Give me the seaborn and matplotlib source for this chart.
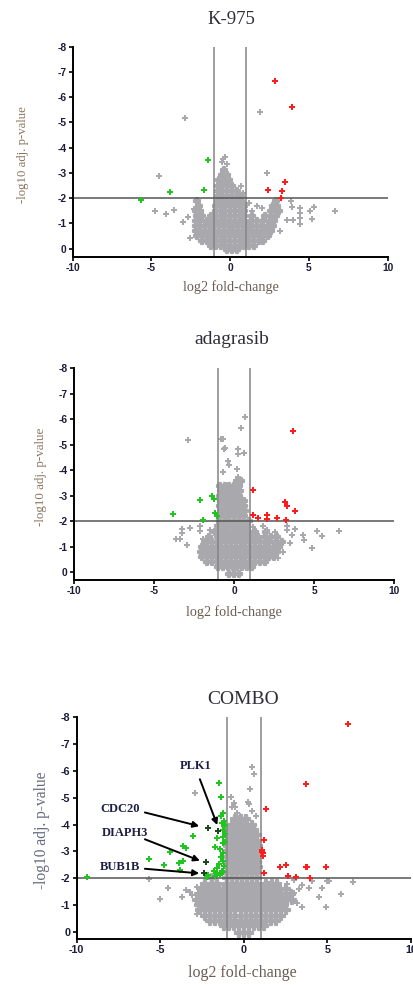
import matplotlib
matplotlib.use("Agg")
import matplotlib.pyplot as plt
import seaborn as sns
import pandas as pd

# ---------------- DATA ----------------
x_ticks = [-10, -5, 0, 5, 10]
y_ticks = [-8, -7, -6, -5, -4, -3, -2, -1, 0]
titles = ["K-975", "adagrasib", "COMBO"]

# --- K-975 ---
k975_red = [(2.87, -6.64), (3.90, -5.62), (3.48, -2.64), (2.42, -2.32), (3.27, -2.28), (3.23, -2.02)]
k975_green = [(-1.39, -3.50), (-1.66, -2.32), (-3.80, -2.26), (-5.64, -1.93)]
k975_gray = [(-2.85, -5.16), (1.89, -5.41), (-4.54, -2.89), (2.32, -2.98), (-0.45, -3.55), (-0.30, -3.62),
             (-0.55, -3.45), (-0.20, -3.35), (-4.75, -1.50), (-4.10, -1.38), (-3.55, -1.52), (-3.02, -1.07),
             (-2.55, -0.44), (-2.17, -1.89), (-2.28, -1.56), (-2.66, -1.24), (3.84, -1.89), (3.90, -1.66),
             (4.43, -1.60), (4.43, -1.40), (4.43, -1.20), (4.40, -0.98), (5.07, -1.49), (5.34, -1.66),
             (5.21, -1.16), (3.59, -1.14), (3.16, -0.70), (6.66, -1.48), (4.01, -1.14), (1.40, -1.50),
             (1.70, -1.70), (2.00, -1.60), (1.20, -1.80), (0.80, -2.20), (0.70, -2.50)]
k975_core = [
    (0.05, [-0.2, 0.1, 0.4]),
    (-0.1, [-1.2, -0.9, -0.6, -0.3, 0.0, 0.3, 0.6, 0.9, 1.2, 1.5]),
    (-0.3, [-1.8, -1.5, -1.2, -0.9, -0.6, -0.3, 0.0, 0.3, 0.6, 0.9, 1.2, 1.5, 1.8, 2.1]),
    (-0.5, [-2.1, -1.8, -1.5, -1.2, -0.9, -0.6, -0.3, 0.0, 0.3, 0.6, 0.9, 1.2, 1.5, 1.8, 2.1, 2.4]),
    (-0.7, [-2.2, -1.9, -1.6, -1.3, -1.0, -0.7, -0.4, -0.1, 0.2, 0.5, 0.8, 1.1, 1.4, 1.7, 2.0, 2.3, 2.6]),
    (-0.9, [-2.2, -1.9, -1.6, -1.3, -1.0, -0.7, -0.4, -0.1, 0.2, 0.5, 0.8, 1.1, 1.4, 1.7, 2.0, 2.4, 2.7]),
    (-1.1, [-2.2, -1.9, -1.5, -1.2, -0.9, -0.6, -0.3, 0.0, 0.3, 0.6, 0.9, 1.3, 1.7, 2.1, 2.5, 2.8]),
    (-1.3, [-2.1, -1.8, -1.2, -0.9, -0.6, -0.3, 0.0, 0.3, 0.6, 0.9, 1.4, 2.2, 2.6, 2.9]),
    (-1.5, [-2.2, -1.9, -0.9, -0.6, -0.3, 0.0, 0.3, 0.6, 0.9, 2.6, 2.9, 3.1]),
    (-1.7, [-2.0, -0.9, -0.6, -0.3, 0.0, 0.3, 0.6, 0.9, 2.7, 3.0]),
    (-1.9, [-2.1, -0.8, -0.5, -0.2, 0.1, 0.4, 0.7, 2.9]),
    (-2.1, [-0.8, -0.5, -0.2, 0.1, 0.4, 0.7]),
    (-2.3, [-0.8, -0.5, -0.2, 0.1, 0.4]),
    (-2.5, [-0.8, -0.5, -0.2, 0.1]),
    (-2.7, [-0.7, -0.4, -0.1]),
    (-2.9, [-0.5, -0.2]),
    (-3.1, [-0.4]),
]

# --- adagrasib ---
adag_red = [(3.69, -5.54), (1.15, -3.24), (3.17, -2.77), (3.31, -2.60), (3.80, -2.39), (1.19, -2.25),
            (1.47, -2.12), (2.03, -2.25), (2.07, -2.08), (2.65, -2.12), (3.23, -2.05)]
adag_green = [(-3.80, -2.29), (-2.13, -2.82), (-1.40, -2.99), (-1.26, -2.86), (-1.20, -2.31),
              (-1.05, -2.21), (-1.93, -2.05)]
adag_gray = [(-2.90, -5.19), (0.68, -6.08), (0.41, -5.65), (-0.84, -5.22), (-0.72, -5.24), (-0.57, -4.89),
             (-0.63, -4.82), (0.26, -4.82), (0.26, -4.64), (0.63, -4.69), (-0.36, -4.38), (-0.32, -4.21),
             (-0.68, -3.92), (0.16, -4.04), (0.22, -3.75), (-3.28, -1.69), (-3.28, -1.56), (-2.76, -1.73),
             (-3.65, -1.29), (-3.38, -1.29), (-2.92, -1.07), (-2.13, -1.63), (-2.13, -1.82), (-1.51, -1.66),
             (-1.51, -1.37), (-1.92, -1.29), (1.20, -1.79), (1.82, -1.82), (2.03, -1.66), (2.55, -1.59),
             (3.28, -1.82), (3.28, -1.66), (3.80, -1.70), (3.59, -1.46), (4.28, -1.46), (4.36, -1.27),
             (5.15, -1.63), (5.46, -1.42), (4.84, -0.94), (6.57, -1.63), (3.49, -1.14), (2.76, -0.55),
             (3.07, -0.81)]
adag_core = [
    (0.05, [-0.3, 0.0, 0.3]),
    (-0.2, [-1.0, -0.7, -0.4, -0.1, 0.2, 0.5, 0.8, 1.1]),
    (-0.4, [-1.7, -1.4, -1.1, -0.8, -0.5, -0.2, 0.1, 0.4, 0.7, 1.0, 1.3, 1.6, 1.9]),
    (-0.6, [-2.0, -1.7, -1.4, -1.1, -0.8, -0.5, -0.2, 0.1, 0.4, 0.7, 1.0, 1.3, 1.6, 1.9, 2.2, 2.5]),
    (-0.8, [-2.1, -1.8, -1.5, -1.2, -0.9, -0.6, -0.3, 0.0, 0.3, 0.6, 0.9, 1.2, 1.5, 1.8, 2.1, 2.4, 2.7]),
    (-1.0, [-2.0, -1.7, -1.4, -1.1, -0.8, -0.5, -0.2, 0.1, 0.4, 0.7, 1.0, 1.3, 1.6, 1.9, 2.2, 2.5, 2.8]),
    (-1.2, [-1.8, -1.4, -1.1, -0.8, -0.5, -0.2, 0.1, 0.4, 0.7, 1.0, 1.3, 1.6, 1.9, 2.2, 2.6, 3.0]),
    (-1.4, [-1.6, -1.0, -0.7, -0.4, -0.1, 0.2, 0.5, 0.8, 1.1, 1.5, 1.9, 2.3, 2.7]),
    (-1.6, [-1.2, -0.9, -0.6, -0.3, 0.0, 0.3, 0.6, 0.9, 1.3, 2.0]),
    (-1.8, [-1.0, -0.7, -0.4, -0.1, 0.2, 0.5, 0.8]),
    (-2.0, [-0.9, -0.6, -0.3, 0.0, 0.3, 0.6, 0.9]),
    (-2.2, [-0.9, -0.6, -0.3, 0.0, 0.3, 0.6]),
    (-2.4, [-0.85, -0.55, -0.25, 0.05, 0.35, 0.65]),
    (-2.6, [-0.9, -0.6, -0.3, 0.0, 0.3, 0.6]),
    (-2.8, [-0.85, -0.55, -0.25, 0.05, 0.35, 0.6]),
    (-3.0, [-0.9, -0.6, -0.3, 0.0, 0.3]),
    (-3.2, [-0.85, -0.55, -0.25, 0.05, 0.35]),
    (-3.4, [-0.9, -0.6, -0.3, 0.0, 0.3]),
    (-3.6, [0.2, 0.4]),
]

# --- COMBO ---
combo_red = [(6.24, -7.75), (3.74, -5.53), (1.34, -4.58), (1.20, -3.42), (1.10, -3.05), (1.12, -2.92),
             (1.16, -2.82), (1.06, -2.99), (1.20, -2.20), (2.16, -2.40), (2.50, -2.50), (2.64, -2.08),
             (3.14, -2.03), (3.70, -2.43), (3.80, -2.40), (3.94, -2.01), (4.94, -2.41)]
combo_green = [(-9.40, -2.05), (-5.66, -2.71), (-4.80, -2.49), (-4.42, -2.99), (-3.62, -3.20), (-3.46, -3.11),
               (-3.86, -2.57), (-3.62, -2.65), (-3.06, -3.57), (-3.80, -2.30), (-1.49, -5.54), (-1.35, -5.01),
               (-1.27, -4.42), (-1.39, -4.32), (-1.19, -4.14), (-1.31, -4.06), (-1.19, -3.94), (-1.27, -3.79),
               (-1.13, -3.63), (-1.27, -3.55), (-1.63, -3.48), (-1.13, -3.36), (-1.73, -3.15), (-1.43, -3.07),
               (-1.23, -2.95), (-1.37, -2.80), (-1.23, -2.65), (-1.47, -2.52), (-1.19, -2.45), (-1.63, -2.36),
               (-1.33, -2.28), (-1.59, -2.18), (-2.13, -2.12), (-1.73, -2.08), (-1.43, -2.12), (-1.27, -2.24),
               (-2.20, -2.05), (-1.24, -3.30), (-1.14, -3.98), (-1.80, -2.25)]
combo_genes = ["CDC20", "PLK1", "DIAPH3", "BUB1B"]
combo_gene_pts = [(-2.17, -3.86), (-1.53, -3.77), (-2.29, -2.61), (-2.39, -2.18)]
combo_gray = [(-2.90, -5.19), (0.47, -6.13), (0.63, -5.90), (0.37, -5.31), (0.23, -4.85), (0.31, -4.76),
              (-0.77, -5.01), (-0.60, -4.80), (-0.70, -4.65), (-0.50, -4.65), (-0.41, -4.44), (-0.25, -4.30),
              (0.50, -4.50), (0.70, -4.30), (-5.70, -1.97), (-4.54, -1.65), (-5.00, -1.22), (-3.70, -1.31),
              (-3.46, -1.55), (-3.10, -1.37), (-2.80, -0.66), (-2.44, -1.24), (-2.20, -1.43), (-2.80, -1.68),
              (-3.20, -1.49), (-2.60, -0.93), (1.60, -1.87), (1.80, -1.43), (2.20, -1.62), (3.00, -1.93),
              (3.50, -1.74), (3.50, -0.93), (4.50, -1.28), (4.70, -1.62), (4.90, -0.93), (5.10, -1.90),
              (5.00, -1.90), (5.80, -1.41), (6.54, -1.84), (2.80, -1.31), (3.20, -1.06), (2.50, -1.06),
              (3.00, -1.43), (3.90, -1.62), (4.10, -1.90), (3.30, -1.60), (2.60, -1.80)]
combo_core = [
    (0.05, [-0.3, 0.0, 0.3]),
    (-0.2, [-1.2, -0.9, -0.6, -0.3, 0.0, 0.3, 0.6, 0.9, 1.2]),
    (-0.4, [-2.0, -1.7, -1.4, -1.1, -0.8, -0.5, -0.2, 0.1, 0.4, 0.7, 1.0, 1.3, 1.6, 1.9]),
    (-0.6, [-2.3, -2.0, -1.7, -1.4, -1.1, -0.8, -0.5, -0.2, 0.1, 0.4, 0.7, 1.0, 1.3, 1.6, 1.9, 2.2]),
    (-0.8, [-2.6, -2.3, -2.0, -1.7, -1.4, -1.1, -0.8, -0.5, -0.2, 0.1, 0.4, 0.7, 1.0, 1.3, 1.6, 1.9, 2.2, 2.5]),
    (-1.0, [-2.7, -2.4, -2.1, -1.8, -1.5, -1.2, -0.9, -0.6, -0.3, 0.0, 0.3, 0.6, 0.9, 1.2, 1.5, 1.8, 2.1, 2.4]),
    (-1.2, [-2.8, -2.5, -2.2, -1.9, -1.6, -1.3, -1.0, -0.7, -0.4, -0.1, 0.2, 0.5, 0.8, 1.1, 1.4, 1.7, 2.0, 2.3, 2.6, 2.9]),
    (-1.4, [-2.7, -2.3, -2.0, -1.7, -1.4, -1.1, -0.8, -0.5, -0.2, 0.1, 0.4, 0.7, 1.0, 1.3, 1.6, 1.9, 2.2, 2.5, 2.8]),
    (-1.6, [-2.5, -2.1, -1.8, -1.5, -1.2, -0.9, -0.6, -0.3, 0.0, 0.3, 0.6, 0.9, 1.2, 1.5, 1.8, 2.1, 2.5]),
    (-1.8, [-2.3, -1.9, -1.6, -1.0, -0.7, -0.4, -0.1, 0.2, 0.5, 0.8, 1.3, 1.7, 2.0]),
    (-2.0, [-1.9, -1.0, -0.7, -0.4, -0.1, 0.2, 0.5, 0.8]),
    (-2.2, [-1.0, -0.7, -0.4, -0.1, 0.2, 0.5, 0.8]),
    (-2.4, [-0.95, -0.65, -0.35, -0.05, 0.25, 0.55, 0.85]),
    (-2.6, [-1.0, -0.7, -0.4, -0.1, 0.2, 0.5, 0.8]),
    (-2.8, [-0.95, -0.65, -0.35, -0.05, 0.25, 0.55, 0.85]),
    (-3.0, [-1.0, -0.7, -0.4, -0.1, 0.2, 0.5, 0.8]),
    (-3.2, [-0.95, -0.65, -0.35, -0.05, 0.25, 0.55, 0.85]),
    (-3.4, [-1.0, -0.7, -0.4, -0.1, 0.2, 0.5, 0.8]),
    (-3.6, [-0.95, -0.65, -0.35, -0.05, 0.25, 0.55, 0.8]),
    (-3.8, [-0.9, -0.6, -0.3, 0.0, 0.3, 0.6]),
    (-4.0, [-0.7, -0.4, -0.1, 0.2, 0.5]),
    (-4.2, [-0.5, -0.2, 0.1]),
]

# ---------------- STYLE ----------------
sns.set_style("ticks")
plt.rcParams["font.family"] = ["Liberation Serif", "DejaVu Serif"]
plt.rcParams["axes.unicode_minus"] = False

GRAY = "#a8a8ad"
VLINE = "#848484"
RED = "#ff1c1c"
GREEN = "#20c520"
DKGREEN = "#1d4a1d"
TICKC = "#1c1c38"


def frame(pairs=(), core=None):
    xs = [p[0] for p in pairs]
    ys = [p[1] for p in pairs]
    if core is not None:
        for yv, row in core:
            for xv in row:
                xs.append(xv)
                ys.append(yv)
    return pd.DataFrame({"x": xs, "y": ys})


W, H = 414, 985
fig = plt.figure(figsize=(W / 100, H / 100), dpi=100)

panels = [
    dict(l=72.7, r=387.7, t=46.7, b=256.7, ybot=0.32, gray=k975_gray, core=k975_core, red=k975_red,
         green=k975_green, title_xy=(231, 20), xl_xy=(231, 287), yl_xy=(23, 155), tfs=13.5, lfs=10.2,
         ylfs=9.2, ylc="#8a735c", tickfs=7.4, ms=19, cs=24),
    dict(l=74.0, r=394.3, t=368.3, b=580.0, ybot=0.30, gray=adag_gray, core=adag_core, red=adag_red,
         green=adag_green, title_xy=(232, 340), xl_xy=(234, 612), yl_xy=(41, 477), tfs=14, lfs=10.2,
         ylfs=9.4, ylc="#8a735c", tickfs=7.4, ms=19, cs=24),
    dict(l=76.7, r=411.0, t=717.3, b=939.0, ybot=0.27, gray=combo_gray, core=combo_core, red=combo_red,
         green=combo_green, title_xy=(243, 700), xl_xy=(242, 973), yl_xy=(42, 830), tfs=14, lfs=11.5,
         ylfs=11.2, ylc="#646a7c", tickfs=7.8, ms=20, cs=26),
]

axes = []
for i, P in enumerate(panels):
    ax = fig.add_axes([P["l"] / W, 1 - P["b"] / H, (P["r"] - P["l"]) / W, (P["b"] - P["t"]) / H])
    axes.append(ax)
    # dense cloud (edge in same colour so neighbouring markers merge)
    sns.scatterplot(data=frame(core=P["core"]), x="x", y="y", ax=ax, color=GRAY, marker="P", s=P["cs"],
                    linewidth=1.6, edgecolor=GRAY, zorder=2, legend=False)
    # scattered grey genes
    sns.scatterplot(data=frame(P["gray"]), x="x", y="y", ax=ax, color=GRAY, marker="P", s=P["ms"],
                    linewidth=0, zorder=2, legend=False)
    ax.axvline(-1, color=VLINE, lw=1.1, zorder=2.5)
    ax.axvline(1, color=VLINE, lw=1.1, zorder=2.5)
    ax.axhline(-2, color="#555555", lw=1.1, zorder=2.5)
    sns.scatterplot(data=frame(P["red"]), x="x", y="y", ax=ax, color=RED, marker="P", s=P["ms"],
                    linewidth=0, zorder=3, legend=False)
    sns.scatterplot(data=frame(P["green"]), x="x", y="y", ax=ax, color=GREEN, marker="P", s=P["ms"],
                    linewidth=0, zorder=3, legend=False)
    if i == 2:
        sns.scatterplot(data=frame(combo_gene_pts), x="x", y="y", ax=ax, color=DKGREEN, marker="P",
                        s=P["ms"], linewidth=0, zorder=4, legend=False)

    ax.set_xlim(-10, 10)
    ax.set_ylim(P["ybot"], -8)
    ax.set_xticks(x_ticks)
    ax.set_yticks(y_ticks)
    ax.set_xticklabels([str(v) for v in x_ticks])
    ax.set_yticklabels([str(v) for v in y_ticks])
    for lab in ax.get_xticklabels() + ax.get_yticklabels():
        lab.set_fontfamily(["Liberation Sans", "DejaVu Sans"])
        lab.set_fontweight("bold")
        lab.set_fontsize(P["tickfs"])
    ax.tick_params(direction="out", length=3, width=1.2, pad=1.5, colors="black")
    for lab in ax.get_xticklabels() + ax.get_yticklabels():
        lab.set_color(TICKC)
    sns.despine(ax=ax)
    for side in ("left", "bottom"):
        ax.spines[side].set_linewidth(1.4)
        ax.spines[side].set_color("black")
    ax.set_xlabel("")
    ax.set_ylabel("")
    ax.set_facecolor("white")

    tx, ty = P["title_xy"]
    fig.text(tx / W, 1 - ty / H, titles[i], ha="center", va="center", fontsize=P["tfs"], color="#2e2e38")
    lx, ly = P["xl_xy"]
    fig.text(lx / W, 1 - ly / H, "log2 fold-change", ha="center", va="center", fontsize=P["lfs"],
             color="#6b5d52")
    yx, yy = P["yl_xy"]
    fig.text(yx / W, 1 - yy / H, "-log10 adj. p-value", ha="center", va="center", rotation=90,
             fontsize=P["ylfs"], color=P["ylc"])

# gene annotations on COMBO
ax3 = axes[2]
label_pos = {"CDC20": (-7.41, -4.57), "PLK1": (-2.87, -6.18), "DIAPH3": (-7.14, -3.69), "BUB1B": (-7.43, -2.43)}
arrow_start = {"CDC20": (-5.92, -4.45), "PLK1": (-2.63, -5.69), "DIAPH3": (-5.92, -3.45), "BUB1B": (-5.92, -2.35)}
arrow_end = {"CDC20": (-2.67, -3.94), "PLK1": (-1.59, -3.98), "DIAPH3": (-2.63, -2.65), "BUB1B": (-2.67, -2.18)}
for g in combo_genes:
    ax3.text(*label_pos[g], g, ha="center", va="center", fontsize=9, fontweight="bold",
             color="#1e1e44", zorder=5)
    ax3.annotate("", xy=arrow_end[g], xytext=arrow_start[g],
                 arrowprops=dict(arrowstyle="-|>", lw=1.4, color="black", mutation_scale=9,
                                 shrinkA=0, shrinkB=0), zorder=5)

fig.savefig("out.png", dpi=100, facecolor="white")
